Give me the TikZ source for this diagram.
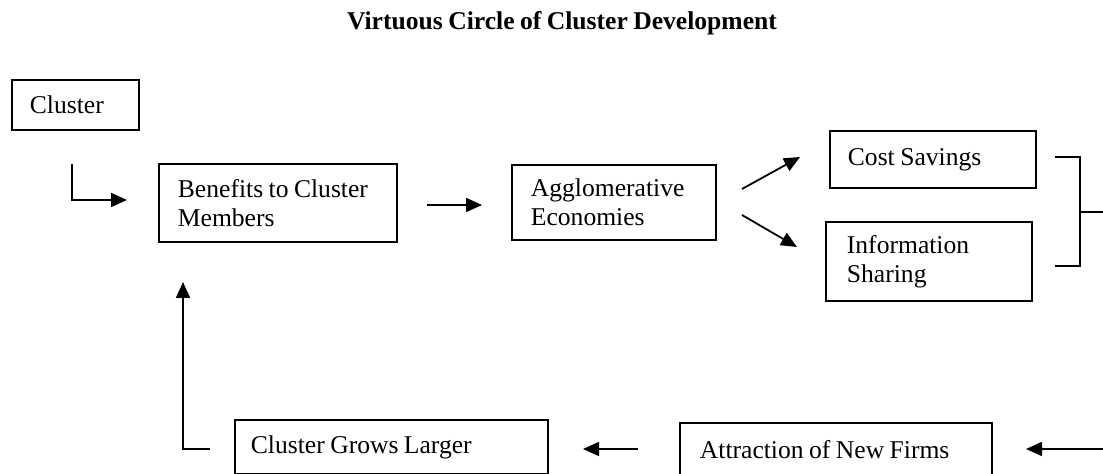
\documentclass[tikz,border=0pt]{standalone}
\usepackage{fontspec}
\setmainfont[WordSpace=0.85]{Liberation Serif}
\usetikzlibrary{arrows.meta}
\begin{document}
\begin{tikzpicture}[x=0.5pt,y=-0.5pt,
  every node/.style={font=\fontsize{12.8}{14.5}\selectfont},
  box/.style={draw, line width=0.9pt, anchor=north west, align=flush left, inner ysep=0pt},
  conn/.style={line width=0.9pt},
  arr/.style={conn, -{Triangle[length=8pt,width=7pt]}}]
\useasboundingbox (0,0) rectangle (1103,474);
\clip (0,0) rectangle (1103,474);
\fill[white] (0,0) rectangle (1103,474);
\node (title) at (562,23) {\bfseries Virtuous Circle of Cluster Development};
\node[box, minimum height=25pt, inner xsep=9pt, text width=45.5pt] (cl) at (11,79) {Cluster};
\node[box, minimum height=39pt, inner xsep=9.5pt, text width=100pt] (ben) at (158,163) {\mbox{Benefits to Cluster}\\Members};
\node[box, minimum height=37.5pt, inner xsep=9.5pt, text width=83pt] (agg) at (511,164) {Agglomerative\\Economies};
\node[box, minimum height=28.5pt, inner xsep=9pt, text width=85pt] (cost) at (829,130) {Cost Savings};
\node[box, minimum height=39.5pt, inner xsep=10.5pt, text width=82pt] (info) at (825,221) {Information\\Sharing};
\node[box, minimum height=27pt, inner xsep=8pt, text width=140.5pt] (grows) at (234,419) {Cluster Grows Larger};
\node[box, minimum height=27pt, inner xsep=10pt, text width=136pt] (attr) at (679,422) {\mbox{Attraction of New Firms}};
% connector coordinates
\coordinate (a1) at (72,164);
\coordinate (a2) at (127,200);
\coordinate (b1) at (427,205);
\coordinate (b2) at (482,205);
\coordinate (c1) at (742,189);
\coordinate (c2) at (800,157);
\coordinate (d1) at (742,215);
\coordinate (d2) at (797,247);
\coordinate (e1) at (1055,157);
\coordinate (e2) at (1080,157);
\coordinate (e3) at (1080,266);
\coordinate (e4) at (1055,266);
\coordinate (e5) at (1080,212);
\coordinate (e6) at (1110,212);
\coordinate (f1) at (1110,449);
\coordinate (f2) at (1026,449);
\coordinate (g1) at (638,449);
\coordinate (g2) at (583,449);
\coordinate (h1) at (210,449);
\coordinate (h2) at (183,449);
\coordinate (h3) at (183,282);
\draw[arr] (a1) |- (a2);
\draw[arr] (b1) -- (b2);
\draw[arr] (c1) -- (c2);
\draw[arr] (d1) -- (d2);
\draw[conn] (e1) -- (e2) -- (e3) -- (e4);
\draw[conn] (e5) -- (e6);
\draw[arr] (f1) -- (f2);
\draw[arr] (g1) -- (g2);
\draw[arr] (h1) -- (h2) -- (h3);
\end{tikzpicture}
\end{document}
